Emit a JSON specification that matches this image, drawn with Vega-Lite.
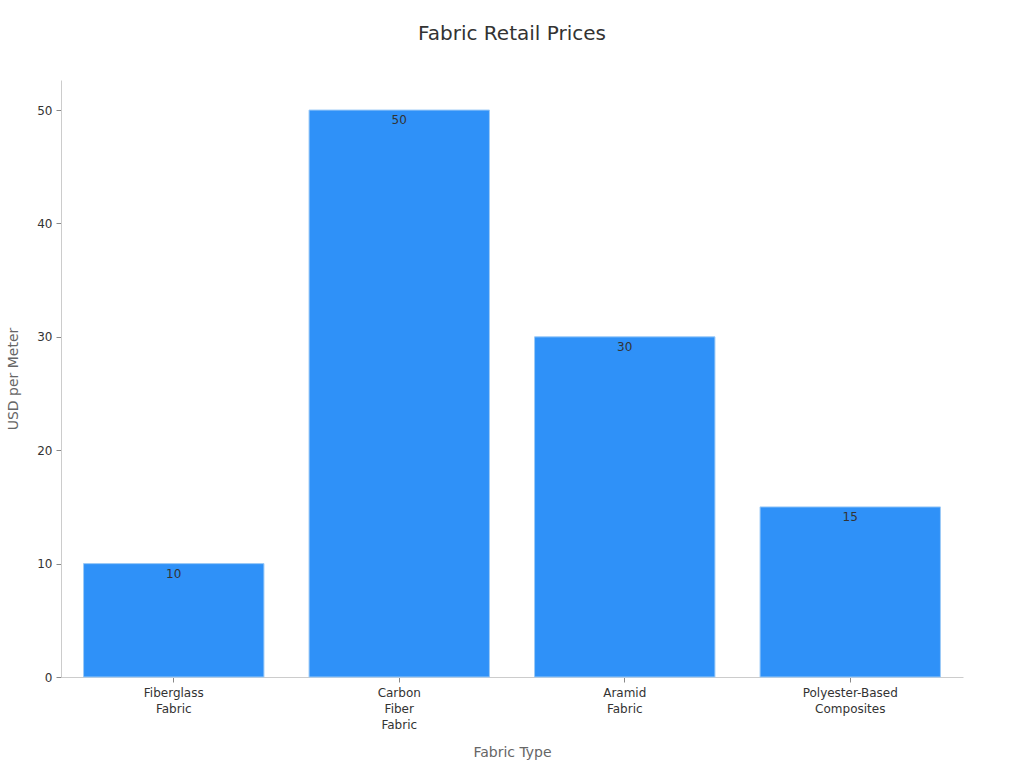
{
  "$schema": "https://vega.github.io/schema/vega-lite/v6.json",
  "autosize": "none",
  "width": 902,
  "height": 597,
  "padding": {"left": 61, "top": 80, "right": 61, "bottom": 91},
  "background": "white",
  "config": {
    "font": "DejaVu Sans",
    "view": {"stroke": null}
  },
  "title": {
    "text": "Fabric Retail Prices",
    "fontSize": 20,
    "fontWeight": "normal",
    "color": "#333333",
    "offset": 36,
    "anchor": "middle"
  },
  "data": {
    "values": [
      {"fabric": "Fiberglass Fabric", "price": 10},
      {"fabric": "Carbon Fiber Fabric", "price": 50},
      {"fabric": "Aramid Fabric", "price": 30},
      {"fabric": "Polyester-Based Composites", "price": 15}
    ]
  },
  "encoding": {
    "x": {
      "field": "fabric",
      "type": "nominal",
      "sort": null,
      "scale": {"paddingInner": 0.2, "paddingOuter": 0.1},
      "axis": {
        "title": "Fabric Type",
        "titleFontSize": 14,
        "titleFontWeight": "normal",
        "titleColor": "#666666",
        "titlePadding": 15,
        "labelAngle": 0,
        "labelFontSize": 12,
        "labelColor": "#333333",
        "labelExpr": "split(datum.label, ' ')",
        "labelLineHeight": 16,
        "labelPadding": 5,
        "tickSize": 5,
        "tickColor": "#888888",
        "domainColor": "#cccccc"
      }
    },
    "y": {
      "field": "price",
      "type": "quantitative",
      "scale": {"domain": [0, 52.65], "nice": false},
      "axis": {
        "title": "USD per Meter",
        "titleFontSize": 14,
        "titleFontWeight": "normal",
        "titleColor": "#666666",
        "titlePadding": 16,
        "values": [0, 10, 20, 30, 40, 50],
        "labelFontSize": 12,
        "labelColor": "#333333",
        "labelPadding": 4,
        "tickSize": 5,
        "tickColor": "#888888",
        "domainColor": "#cccccc",
        "grid": false
      }
    }
  },
  "layer": [
    {
      "mark": {"type": "bar", "color": "#2f91f8", "stroke": "#9ccaf7", "strokeWidth": 1}
    },
    {
      "mark": {"type": "text", "baseline": "top", "dy": 5, "fontSize": 12, "color": "#333333"},
      "encoding": {"text": {"field": "price", "type": "quantitative"}}
    }
  ]
}
